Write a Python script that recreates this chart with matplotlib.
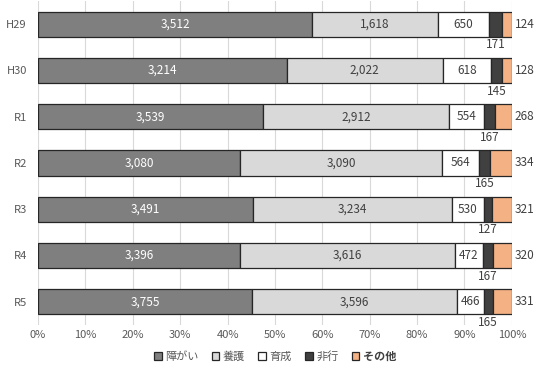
import matplotlib
matplotlib.use("Agg")
import matplotlib.pyplot as plt
import numpy as np

plt.rcParams['font.family'] = ['Noto Sans CJK JP', 'DejaVu Sans']

years = ["H29", "H30", "R1", "R2", "R3", "R4", "R5"]
shogai = [3512, 3214, 3539, 3080, 3491, 3396, 3755]
yougo = [1618, 2022, 2912, 3090, 3234, 3616, 3596]
ikusei = [650, 618, 554, 564, 530, 472, 466]
hikou = [171, 145, 167, 165, 127, 167, 165]
sonota = [124, 128, 268, 334, 321, 320, 331]

names = ["障がい", "養護", "育成", "非行", "その他"]
colors = ["#7f7f7f", "#d9d9d9", "#ffffff", "#404040", "#f4b183"]

data = np.array([shogai, yougo, ikusei, hikou, sonota], dtype=float)
total = data.sum(axis=0)
frac = data / total

fig = plt.figure(figsize=(5.36, 3.70), dpi=100)
ax = fig.add_axes([0.071, 0.122, 0.884, 0.875])

y = np.arange(len(years))
left = np.zeros(len(years))
txtcol = "#404040"
for i, name in enumerate(names):
    ax.barh(y, frac[i], left=left, height=0.55, color=colors[i],
            edgecolor="#262626", linewidth=0.9, label=name, zorder=3)
    for j in range(len(years)):
        val = f"{int(data[i, j]):,}"
        cx = left[j] + frac[i, j] / 2
        if i < 3:
            ax.text(cx, y[j], val, ha="center", va="center", fontsize=8.5,
                    color="white" if i == 0 else txtcol, zorder=4)
        elif i == 3:
            ax.annotate(val, (cx, y[j] + 0.275), xytext=(0, -1),
                        textcoords="offset points", ha="center", va="top",
                        fontsize=8.5, color=txtcol)
        else:
            ax.annotate(val, (1.0, y[j]), xytext=(2, 0),
                        textcoords="offset points", ha="left", va="center",
                        fontsize=8.5, color=txtcol)
    left = left + frac[i]

ax.set_xlim(0, 1)
ax.set_ylim(len(years) - 0.5, -0.5)
ax.set_yticks(y)
ax.set_yticklabels(years)
ax.set_xticks(np.linspace(0, 1, 11))
ax.set_xticklabels([f"{p}%" for p in range(0, 101, 10)])
ax.tick_params(axis="both", length=0, labelsize=8, colors="#595959")
ax.tick_params(axis="x", pad=4)
ax.tick_params(axis="y", pad=8)
ax.grid(axis="x", color="#d9d9d9", linewidth=0.8, zorder=0)
for s in ax.spines.values():
    s.set_visible(False)

leg = ax.legend(loc="center", bbox_to_anchor=(0.5, -0.097), ncol=5,
                frameon=False, fontsize=8, handlelength=0.7, handleheight=0.7,
                handletextpad=0.3, columnspacing=1.2, borderpad=0)
for t in leg.get_texts():
    t.set_color("#595959")
texts = leg.get_texts()
texts[-1].set_color("#404040")
texts[-1].set_fontweight("bold")

fig.savefig("out.png", dpi=100)
